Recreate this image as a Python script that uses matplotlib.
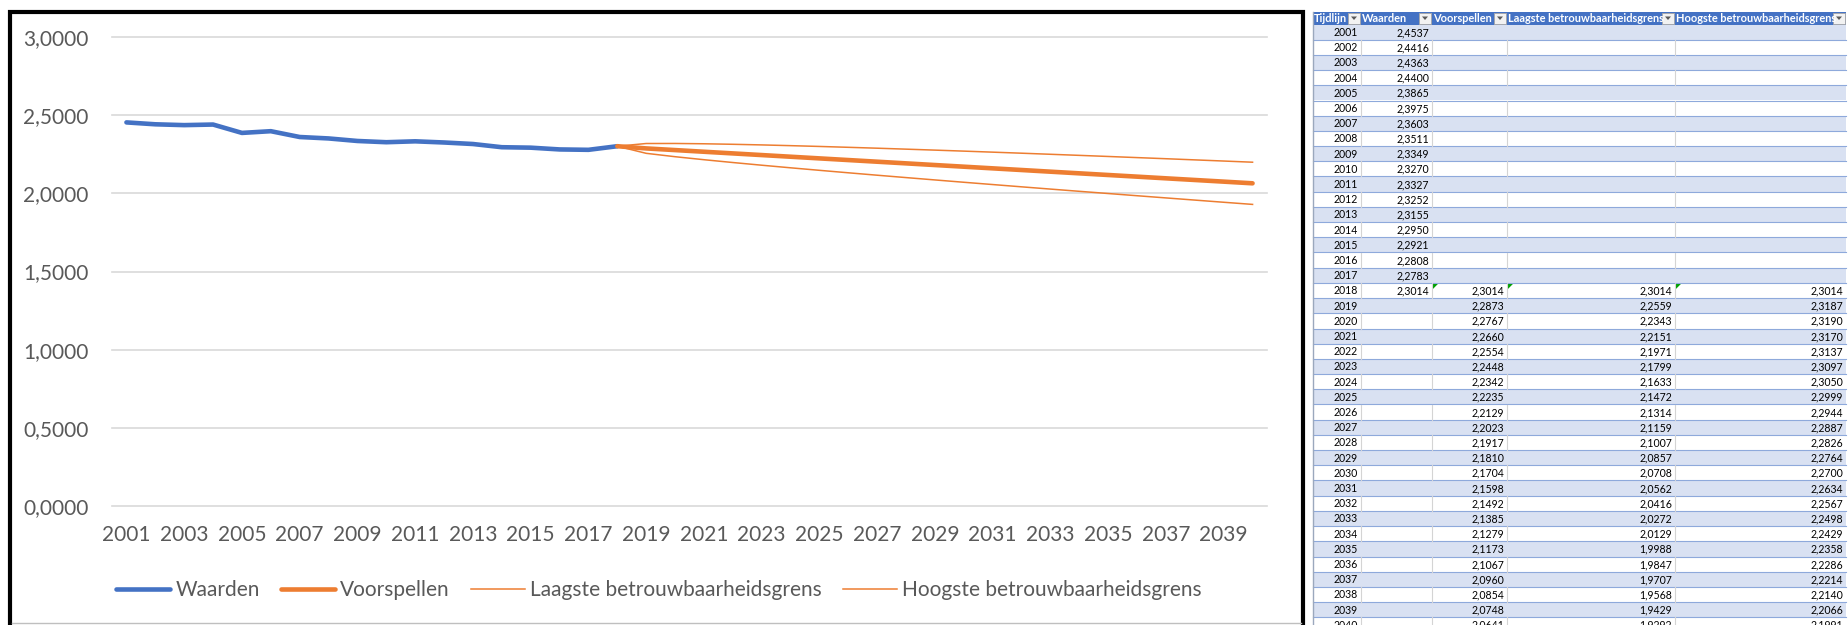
import numpy as np
import matplotlib
matplotlib.use('Agg')
import matplotlib.pyplot as plt
from matplotlib.patches import Rectangle, Polygon
from matplotlib.lines import Line2D
from matplotlib.ticker import FuncFormatter, MultipleLocator

plt.rcParams['font.family'] = ['Lato', 'DejaVu Sans']

jaren = list(range(2001, 2041))
waarden = [2.4537, 2.4416, 2.4363, 2.4400, 2.3865, 2.3975, 2.3603, 2.3511, 2.3349,
           2.3270, 2.3327, 2.3252, 2.3155, 2.2950, 2.2921, 2.2808, 2.2783, 2.3014]
voorspellen = [2.3014, 2.2873, 2.2767, 2.2660, 2.2554, 2.2448, 2.2342, 2.2235, 2.2129,
               2.2023, 2.1917, 2.1810, 2.1704, 2.1598, 2.1492, 2.1385, 2.1279, 2.1173,
               2.1067, 2.0960, 2.0854, 2.0748, 2.0641]
laagste = [2.3014, 2.2559, 2.2343, 2.2151, 2.1971, 2.1799, 2.1633, 2.1472, 2.1314,
           2.1159, 2.1007, 2.0857, 2.0708, 2.0562, 2.0416, 2.0272, 2.0129, 1.9988,
           1.9847, 1.9707, 1.9568, 1.9429, 1.9292]
hoogste = [2.3014, 2.3187, 2.3190, 2.3170, 2.3137, 2.3097, 2.3050, 2.2999, 2.2944,
           2.2887, 2.2826, 2.2764, 2.2700, 2.2634, 2.2567, 2.2498, 2.2429, 2.2358,
           2.2286, 2.2214, 2.2140, 2.2066, 2.1991]
kolommen = ['Tijdlijn', 'Waarden', 'Voorspellen', 'Laagste betrouwbaarheidsgrens',
            'Hoogste betrouwbaarheidsgrens']

blauw = '#4472C4'
oranje = '#ED7D31'
grijs = '#595959'

W, H = 1849, 625
fig = plt.figure(figsize=(W / 100, H / 100), dpi=100)
fig.patch.set_facecolor('white')


def fx(px):
    return px / W


def fy(py):
    return 1 - py / H


# ---- grafiek ----
ax = fig.add_axes([fx(112), fy(506), fx(1267) - fx(112), fy(37) - fy(506)])
start_v = len(waarden) - 1
x_w = np.arange(len(waarden))
x_v = np.arange(start_v, start_v + len(voorspellen))

ax.plot(x_w, waarden, color=blauw, lw=3.3, solid_capstyle='round', solid_joinstyle='round')
ax.plot(x_v, voorspellen, color=oranje, lw=3.3, solid_capstyle='round', solid_joinstyle='round')
ax.plot(x_v, laagste, color=oranje, lw=1.1)
ax.plot(x_v, hoogste, color=oranje, lw=1.1)

ax.set_xlim(-0.5, len(jaren) - 0.5)
ax.set_ylim(0, 3)
ax.yaxis.set_major_locator(MultipleLocator(0.5))
ax.yaxis.set_major_formatter(FuncFormatter(lambda v, p: f'{v:.4f}'.replace('.', ',')))
ax.set_xticks(np.arange(0, len(jaren), 2))
ax.set_xticklabels([str(j) for j in jaren[::2]])
ax.grid(axis='y', color='#D9D9D9', lw=1.2)
ax.set_axisbelow(True)
for gl in ax.get_ygridlines():
    gl.set_clip_on(False)
for s in ax.spines.values():
    s.set_visible(False)
ax.tick_params(length=0, colors=grijs, labelsize=15)
ax.tick_params(axis='x', pad=14)
ax.tick_params(axis='y', pad=17)

handles = [Line2D([], [], color=blauw, lw=3.3, solid_capstyle='round'),
           Line2D([], [], color=oranje, lw=3.3, solid_capstyle='round'),
           Line2D([], [], color=oranje, lw=1.1),
           Line2D([], [], color=oranje, lw=1.1)]
labels = ['Waarden', 'Voorspellen', 'Laagste betrouwbaarheidsgrens', 'Hoogste betrouwbaarheidsgrens']
fig.legend(handles, labels, loc='center', bbox_to_anchor=(fx(659), fy(590)), ncol=4,
           frameon=False, fontsize=15, handlelength=2.6, handletextpad=0.25,
           columnspacing=1.0, labelcolor=grijs)

# zwarte rand rond de grafiek
fig.patches.append(Rectangle((fx(10.5), fy(660)), fx(1303) - fx(10.5), fy(11.5) - fy(660),
                             transform=fig.transFigure, fill=False, ec='black', lw=3))
fig.add_artist(Line2D([fx(12), fx(1301)], [fy(623), fy(623)], transform=fig.transFigure,
                      color='#BFBFBF', lw=1))

# ---- tabel ----
tab = fig.add_axes([0, 0, 1, 1])
tab.set_xlim(0, W)
tab.set_ylim(H, 0)
tab.axis('off')
tab.patch.set_alpha(0)

randen = [1313, 1361, 1432, 1507, 1675, 1846]
kop_boven, kop_h = 11.5, 13
rij_h = 15.2
knop_b = 12

# kopregel
for k, naam in enumerate(kolommen):
    x0, x1 = randen[k], randen[k + 1]
    tab.add_patch(Rectangle((x0, kop_boven), x1 - x0, kop_h, fc=blauw, ec='none'))
    knop = Rectangle((x1 - knop_b - 1, kop_boven + 1), knop_b, kop_h - 2, fc='#F2F2F2',
                     ec='#A6A6A6', lw=0.6)
    tab.add_patch(knop)
    cx, cy = x1 - 1 - knop_b / 2, kop_boven + kop_h / 2
    tab.add_patch(Polygon([[cx - 3, cy - 1.5], [cx + 3, cy - 1.5], [cx, cy + 2]], fc='#595959', ec='none'))
    clip = Rectangle((x0, kop_boven), x1 - x0 - knop_b - 1, kop_h, transform=tab.transData)
    t = tab.text(x0 + 1, kop_boven + kop_h / 2 + 0.5, naam, color='white', fontweight='bold',
                 fontsize=7.9, va='center')
    t.set_clip_path(clip)

# rijen
for i, jaar in enumerate(jaren):
    y0 = kop_boven + kop_h + i * rij_h
    band = i % 2 == 0
    tab.add_patch(Rectangle((randen[0], y0), randen[-1] - randen[0], rij_h,
                            fc='#D9E1F2' if band else 'white', ec='none'))
    tab.plot([randen[0], randen[-1]], [y0 + rij_h, y0 + rij_h], color='#8EA9DB', lw=0.8)
    if not band:
        for xr in randen[1:-1]:
            tab.plot([xr, xr], [y0, y0 + rij_h], color='#D4D4D4', lw=0.8)

    cellen = [str(jaar)]
    cellen.append(waarden[i] if i < len(waarden) else None)
    j = i - start_v
    for reeks in (voorspellen, laagste, hoogste):
        cellen.append(reeks[j] if j >= 0 else None)

    for k, v in enumerate(cellen):
        if v is None:
            continue
        s = v if isinstance(v, str) else f'{v:.4f}'.replace('.', ',')
        tab.text(randen[k + 1] - 3, y0 + rij_h / 2 + 0.5, s, ha='right', color='black',
                 fontsize=7.6, va='center')
        if j == 0 and k >= 2:
            x0 = randen[k]
            tab.add_patch(Polygon([[x0 + 1, y0 + 1], [x0 + 6, y0 + 1], [x0 + 1, y0 + 6]],
                                  fc='#00A000', ec='none'))

tab.plot([randen[0], randen[0]], [kop_boven, H], color='#9BA8BD', lw=1)

fig.savefig('out.png', dpi=100, facecolor='white')
